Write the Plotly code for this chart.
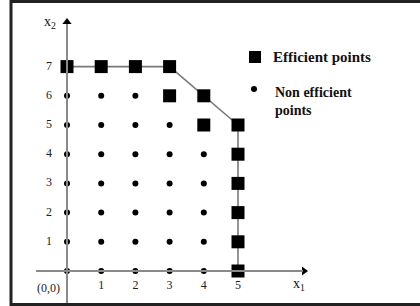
import plotly.graph_objects as go

# ---- data ----
eff_x = [0, 1, 2, 3, 3, 4, 4, 5, 5, 5, 5, 5, 5]
eff_y = [7, 7, 7, 7, 6, 6, 5, 5, 4, 3, 2, 1, 0]
frontier_x = [0, 3, 5, 5]
frontier_y = [7, 7, 5, 0]
non_x = ([0, 1, 2] + [0, 1, 2, 3] + [0, 1, 2, 3, 4] * 5)
non_y = ([6, 6, 6] + [5, 5, 5, 5] + [4] * 5 + [3] * 5 + [2] * 5 + [1] * 5 + [0] * 5)
xtick_vals = [1, 2, 3, 4, 5]
xtick_text = ["1", "2", "3", "4", "5"]
ytick_vals = [1, 2, 3, 4, 5, 6, 7]
ytick_text = ["1", "2", "3", "4", "5", "6", "7"]

W, H = 420, 306
ox, oy = 67, 271          # pixel position of origin
sx, sy = 34.2, 29.2       # pixels per unit
xr = [-ox / sx, (W - ox) / sx]
yr = [-(H - oy) / sy, oy / sy]

def dx(px):
    return (px - ox) / sx

def dy(py):
    return (oy - py) / sy

AX = "#8a8a8a"
SERIF = "Liberation Serif, Times New Roman, serif"

fig = go.Figure()

# axes lines
fig.add_shape(type="line", x0=0, x1=0, y0=yr[0], y1=dy(24), line=dict(color=AX, width=2))
fig.add_shape(type="line", x0=dx(36), x1=dx(303), y0=0, y1=0, line=dict(color=AX, width=2))

# frontier line
fig.add_trace(go.Scatter(x=frontier_x, y=frontier_y, mode="lines",
                         line=dict(color="#7a7a7a", width=1.6), hoverinfo="skip", showlegend=False))

# arrow heads
fig.add_trace(go.Scatter(x=[0], y=[dy(22)], mode="markers",
                         marker=dict(symbol="triangle-up", size=8, color="black"), showlegend=False))
fig.add_trace(go.Scatter(x=[dx(304)], y=[0], mode="markers",
                         marker=dict(symbol="triangle-right", size=8, color="black"), showlegend=False))

# non-efficient points
fig.add_trace(go.Scatter(x=non_x, y=non_y, mode="markers",
                         marker=dict(symbol="circle", size=6, color="black"), showlegend=False))
# efficient points
fig.add_trace(go.Scatter(x=eff_x, y=eff_y, mode="markers",
                         marker=dict(symbol="square", size=13, color="black"), showlegend=False))

# tick labels
fig.add_trace(go.Scatter(x=xtick_vals, y=[dy(286)] * len(xtick_vals), mode="text", text=xtick_text,
                         textfont=dict(family=SERIF, size=12, color="#222"), showlegend=False))
fig.add_trace(go.Scatter(x=[dx(49)] * len(ytick_vals), y=ytick_vals, mode="text", text=ytick_text,
                         textfont=dict(family=SERIF, size=12, color="#222"), showlegend=False))
fig.add_annotation(x=dx(48), y=dy(288), text="(0,0)", showarrow=False,
                   font=dict(family=SERIF, size=12, color="#222"))

# axis names
fig.add_annotation(x=dx(50), y=dy(22), text="x<sub>2</sub>", showarrow=False,
                   font=dict(family=SERIF, size=14, color="#111"))
fig.add_annotation(x=dx(299), y=dy(284), text="x<sub>1</sub>", showarrow=False,
                   font=dict(family=SERIF, size=14, color="#111"))

# custom legend
fig.add_trace(go.Scatter(x=[dx(255)], y=[dy(57)], mode="markers",
                         marker=dict(symbol="square", size=12, color="black"), showlegend=False))
fig.add_trace(go.Scatter(x=[dx(254)], y=[dy(89)], mode="markers",
                         marker=dict(symbol="circle", size=6, color="black"), showlegend=False))
fig.add_annotation(x=dx(271), y=dy(57), text="<b>Efficient points</b>", showarrow=False,
                   xanchor="left", font=dict(family=SERIF, size=15, color="#111"))
fig.add_annotation(x=dx(273), y=dy(101), text="<b>Non efficient<br>points</b>", showarrow=False,
                   xanchor="left", align="left", font=dict(family=SERIF, size=14, color="#111"))

# border (left, top, bottom)
fig.add_shape(type="line", xref="paper", yref="paper", x0=11 / W, x1=11 / W, y0=0, y1=1,
              line=dict(color="#222", width=3))
fig.add_shape(type="line", xref="paper", yref="paper", x0=11 / W, x1=1, y0=1 - 1.5 / H, y1=1 - 1.5 / H,
              line=dict(color="#222", width=3))
fig.add_shape(type="line", xref="paper", yref="paper", x0=11 / W, x1=1, y0=1.5 / H, y1=1.5 / H,
              line=dict(color="#222", width=3))

fig.update_layout(
    width=W, height=H, margin=dict(l=0, r=0, t=0, b=0),
    paper_bgcolor="white", plot_bgcolor="white",
    xaxis=dict(range=xr, visible=False, fixedrange=True),
    yaxis=dict(range=yr, visible=False, fixedrange=True),
    showlegend=False,
)

fig.write_html("out.html", config={"displayModeBar": False},
               post_script="document.body.style.margin='0';document.body.style.padding='0';"
                           "document.body.style.overflow='hidden';")
